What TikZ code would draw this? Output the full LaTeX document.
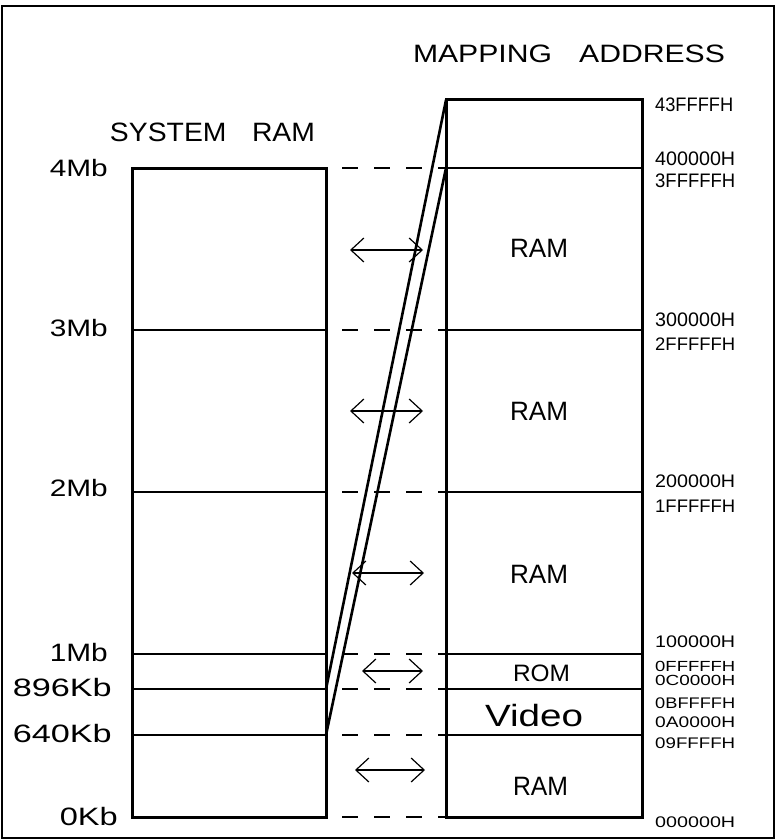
\documentclass[tikz,border=0pt]{standalone}
\usepackage{fontspec}
\setmainfont{Liberation Sans}
\usepackage{graphicx}
\usetikzlibrary{arrows.meta}
% #1 = width, #2 = cap height (both in pt), #3 = text
\newcommand\fitbox[3]{\resizebox{#1pt}{\height}{\fontsize{\fpeval{#2/0.716}pt}{10pt}\selectfont #3}}
\begin{document}
\begin{tikzpicture}[x=1pt,y=-1pt,
  frameline/.style={line width=2.4pt},
  boxline/.style={line width=3pt},
  divline/.style={line width=2.6pt},
  gapdash/.style={line width=2.6pt, dash pattern=on 16pt off 16pt, dash phase=16pt},
  mapline/.style={line width=2.6pt},
  maparrow/.style={line width=1.2pt, {Straight Barb[length=13pt,width=24pt]}-{Straight Barb[length=13pt,width=24pt]}},
  lbl/.style={inner sep=0pt, anchor=center},
  sizelbl/.style={inner sep=0pt, anchor=east},
  addr/.style={inner sep=0pt, anchor=west}]
\useasboundingbox (0,0) rectangle (778,840);
% outer frame
\coordinate (F1) at (2,6);
\coordinate (F2) at (774,838);
\draw[frameline] (F1) rectangle (F2);
% level coordinates
\foreach \n/\y in {a/168,b/330,c/492,d/654,e/689,f/735,g/817}{
  \coordinate (LL\n) at (132,\y);
  \coordinate (LR\n) at (326,\y);
  \coordinate (RL\n) at (446,\y);
  \coordinate (RR\n) at (642,\y);
}
\coordinate (RLtop) at (446,100);
\coordinate (RRtop) at (642,100);
% boxes
\draw[boxline] (LLa) rectangle (LRg);
\draw[boxline] (RLtop) rectangle (RRg);
\foreach \n in {b,c,d,e,f}{\draw[divline] (LL\n) -- (LR\n);}
\foreach \n in {a,b,c,d,e,f}{\draw[divline] (RL\n) -- (RR\n);}
\foreach \n in {a,b,c,d,e,f,g}{\draw[gapdash] (LR\n) -- (RL\n);}
% remapping lines
\draw[mapline] (LRe) -- (RLtop);
\draw[mapline] (LRf) -- (RLa);
% arrows
\coordinate (A1l) at (350,250); \coordinate (A1r) at (423,250);
\coordinate (A2l) at (350,411); \coordinate (A2r) at (423,411);
\coordinate (A3l) at (352,573); \coordinate (A3r) at (424,573);
\coordinate (A4l) at (362,671); \coordinate (A4r) at (423,671);
\coordinate (A5l) at (355,770); \coordinate (A5r) at (425,770);
\foreach \k in {1,2,3,4,5}{\draw[maparrow] (A\k l) -- (A\k r);}
% titles
\node[lbl] (title) at (569,54) {\fitbox{312}{18}{MAPPING\hspace{0.9em}ADDRESS}};
\node[lbl] (sysram) at (212.5,132.5) {\fitbox{205}{19}{SYSTEM\hspace{0.9em}RAM}};
% size labels
\node[sizelbl] (s4) at (108,168.5) {\fitbox{58}{17}{4Mb}};
\node[sizelbl] (s3) at (108,328.5) {\fitbox{58}{17}{3Mb}};
\node[sizelbl] (s2) at (108,488.5) {\fitbox{58}{17}{2Mb}};
\node[sizelbl] (s1) at (108,653) {\fitbox{58}{18}{1Mb}};
\node[sizelbl] (s896) at (112,688) {\fitbox{99}{18}{896Kb}};
\node[sizelbl] (s640) at (112,734) {\fitbox{99}{18}{640Kb}};
\node[sizelbl] (s0) at (118,817) {\fitbox{58}{18}{0Kb}};
% region labels
\node[lbl] (ram1) at (539,248) {\fitbox{58}{19}{RAM}};
\node[lbl] (ram2) at (539,411) {\fitbox{58}{19}{RAM}};
\node[lbl] (ram3) at (539,574) {\fitbox{58}{19}{RAM}};
\node[lbl] (rom) at (541.5,673) {\fitbox{57}{17}{ROM}};
\node[lbl] (video) at (534,716) {\fitbox{98}{22}{Video}};
\node[lbl] (ram4) at (540.5,786) {\fitbox{55}{19}{RAM}};
% address labels
\node[addr] (h1) at (655,105) {\fitbox{78}{14}{43FFFFH}};
\node[addr] (h2) at (655,159) {\fitbox{80}{14}{400000H}};
\node[addr] (h3) at (655,181) {\fitbox{80}{14}{3FFFFFH}};
\node[addr] (h4) at (655,319.5) {\fitbox{80}{14}{300000H}};
\node[addr] (h5) at (655,344) {\fitbox{80}{13}{2FFFFFH}};
\node[addr] (h6) at (655,481.5) {\fitbox{80}{13}{200000H}};
\node[addr] (h7) at (655,506) {\fitbox{80}{13}{1FFFFFH}};
\node[addr] (h8) at (655,642) {\fitbox{80}{12}{100000H}};
\node[addr] (h9) at (655,666) {\fitbox{80}{10.5}{0FFFFFH}};
\node[addr] (h10) at (655,680) {\fitbox{80}{10.5}{0C0000H}};
\node[addr] (h11) at (655,703) {\fitbox{80}{11}{0BFFFFH}};
\node[addr] (h12) at (655,722) {\fitbox{80}{11}{0A0000H}};
\node[addr] (h13) at (655,743) {\fitbox{80}{11}{09FFFFH}};
\node[addr] (h14) at (655,822) {\fitbox{80}{11}{000000H}};
\end{tikzpicture}
\end{document}
